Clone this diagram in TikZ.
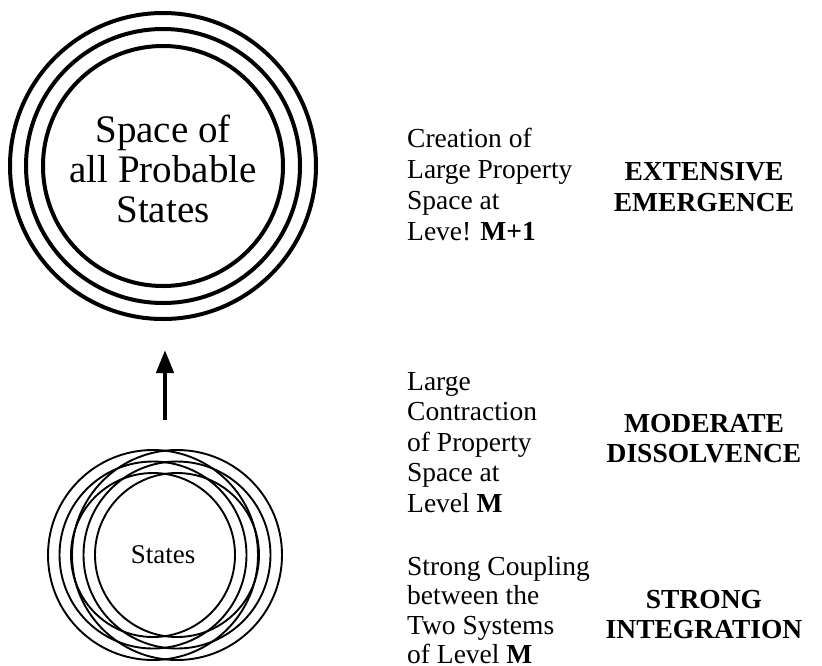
\documentclass[tikz,border=0pt]{standalone}
\usepackage{fontspec}
\setmainfont{Liberation Serif}
\usetikzlibrary{arrows.meta}
\tikzset{
  bigring/.style={draw=black,line width=4pt},
  smallring/.style={draw=black,line width=1.9pt},
  desc/.style={anchor=north west,inner sep=0pt,align=left},
  label/.style={anchor=north,inner sep=0pt,align=center},
  upArrow/.style={line width=4.5pt,-{Triangle[length=23pt,width=17pt]}}
}
\begin{document}
\begin{tikzpicture}[x=1pt,y=-1pt]
\useasboundingbox (0,0) rectangle (822,665);
% large property space
\coordinate (bigc) at (163,166);
\draw[bigring] (bigc) circle (153);
\draw[bigring] (bigc) circle (137);
\draw[bigring] (bigc) circle (120);
\node[anchor=north,inner sep=0pt,align=center,font=\fontsize{39}{40}\selectfont] (bigtext) at (163,114) {\strut Space of\\all Probable\\States};
% two coupled systems
\coordinate (sysA) at (153,555);
\coordinate (sysB) at (177,555);
\foreach \r in {105,93.5,82}{
  \draw[smallring] (sysA) circle (\r);
  \draw[smallring] (sysB) circle (\r);
}
\node[anchor=base,inner sep=0pt,font=\fontsize{27}{31}\selectfont] (smalltext) at (163,563) {States};
% arrow
\coordinate (arrowtail) at (165,420);
\coordinate (arrowtip) at (165,350);
\draw[upArrow] (arrowtail) -- (arrowtip);
% descriptions
\node[desc,font=\fontsize{27.5}{30.8}\selectfont] (d1) at (407,126.1) {\strut Creation of\\Large Property\\Space at\\Leve! \textbf{M+1}};
\node[desc,font=\fontsize{27.5}{30.5}\selectfont] (d2) at (407,368.65) {\strut Large\\Contraction\\of Property\\Space at\\Level \textbf{M}};
\node[desc,font=\fontsize{27.5}{29.5}\selectfont] (d3) at (407,554.35) {\strut Strong Coupling\\between the\\Two Systems\\of Level \textbf{M}};
% labels
\node[label,font=\fontsize{27.5}{31.7}\selectfont\bfseries] (l1) at (704,157.8) {\strut EXTENSIVE\\EMERGENCE};
\node[label,font=\fontsize{27.5}{30}\selectfont\bfseries] (l2) at (704,411) {\strut MODERATE\\DISSOLVENCE};
\node[label,font=\fontsize{27.5}{30}\selectfont\bfseries] (l3) at (704,587) {\strut STRONG\\INTEGRATION};
\end{tikzpicture}
\end{document}
